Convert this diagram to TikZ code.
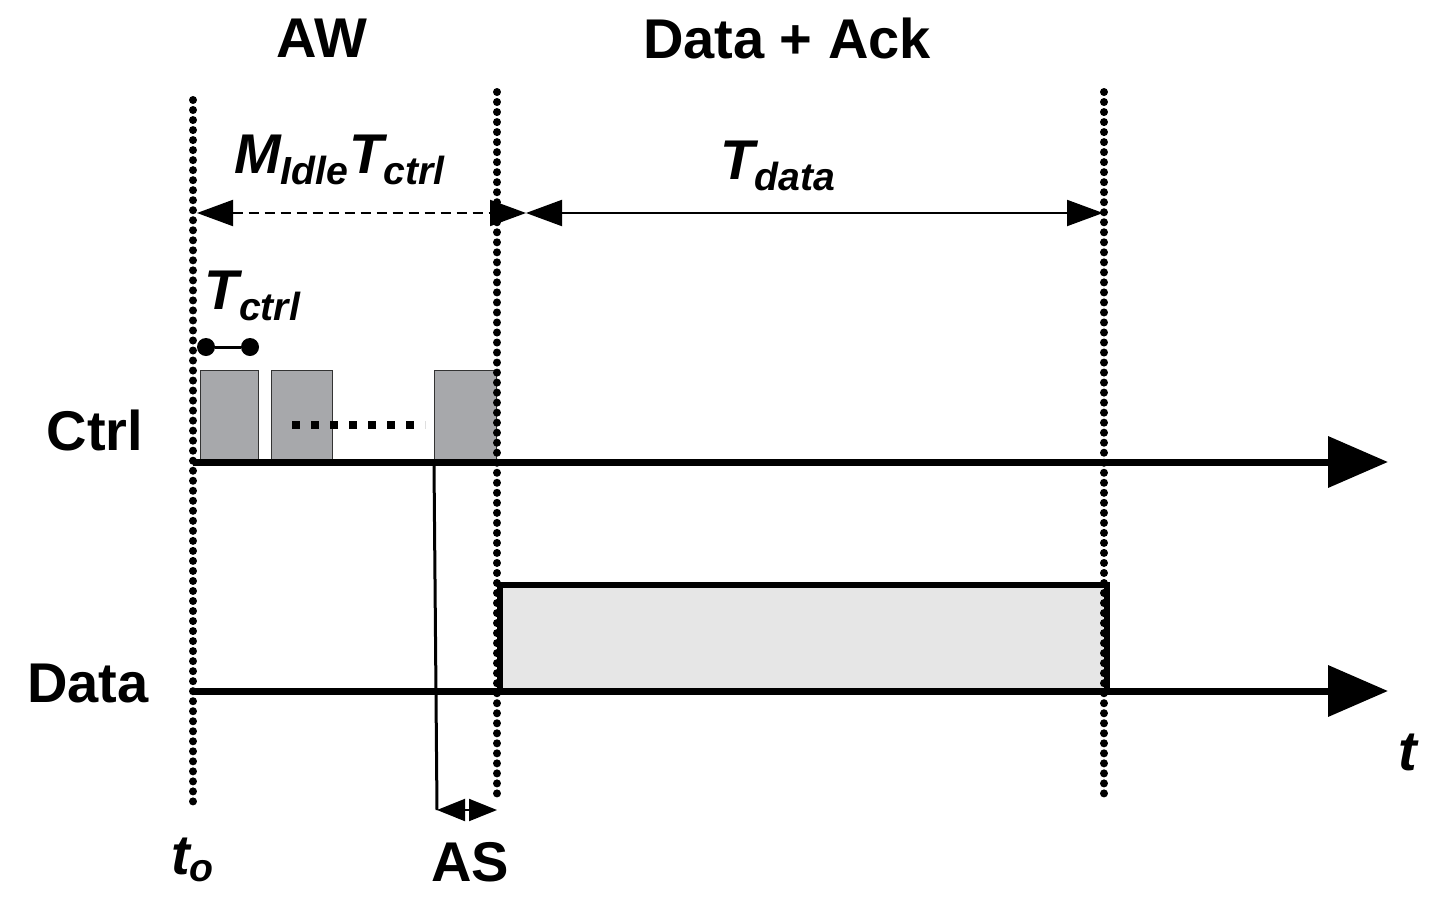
\documentclass[tikz,border=0pt]{standalone}
\usepackage{fontspec}
\setmainfont{Liberation Sans}
\usetikzlibrary{arrows.meta}
\definecolor{boxg}{HTML}{A7A8AB}
\definecolor{datag}{HTML}{E6E6E6}
\begin{document}
\begin{tikzpicture}[x=0.5pt,y=-0.5pt,
  vline/.style={line width=4pt,dash pattern=on 0.01pt off 5pt,line cap=round},
  axis/.style={line width=3.5pt,-{Triangle[length=30pt,width=25pt]}},
  dim/.style={line width=1pt,{Triangle[length=18pt,width=13pt]}-{Triangle[length=18pt,width=13pt]}},
  ctrlbox/.style={draw=black!80,line width=0.6pt,fill=boxg},
  lab/.style={font=\fontsize{28}{30}\selectfont\bfseries},
  ilab/.style={font=\fontsize{28}{30}\selectfont\bfseries\itshape}]
\useasboundingbox (0,0) rectangle (1444,910);
% data box
\node[draw,line width=3pt,fill=datag,minimum width=303.5pt,minimum height=53.5pt,inner sep=0,anchor=north west] (dbox) at (497,582) {};
% ctrl boxes
\node[ctrlbox,anchor=south west,minimum width=29pt,minimum height=45pt,inner sep=0] (b1) at (200,461) {};
\node[ctrlbox,anchor=south west,minimum width=30.5pt,minimum height=45pt,inner sep=0] (b2) at (271,461) {};
\node[ctrlbox,anchor=south west,minimum width=31pt,minimum height=45pt,inner sep=0] (b3) at (434,461) {};
\draw[line width=4pt,dash pattern=on 4pt off 5.5pt] (292,425) -- (425,425);
% axes
\coordinate (c0) at (193,462); \coordinate (c1) at (1388,462);
\coordinate (d0) at (193,691); \coordinate (d1) at (1388,691);
\draw[axis] (c0) -- (c1);
\draw[axis] (d0) -- (d1);
% vertical dotted lines
\coordinate (v1a) at (193,100); \coordinate (v1b) at (193,805);
\coordinate (v2a) at (497,92); \coordinate (v2b) at (497,795);
\coordinate (v3a) at (1104,92); \coordinate (v3b) at (1104,795);
\draw[vline] (v1a) -- (v1b);
\draw[vline] (v2a) -- (v2b);
\draw[vline] (v3a) -- (v3b);
% dimension arrows
\coordinate (m0) at (197,213); \coordinate (m1) at (526,213); \coordinate (m2) at (1103,213);
\draw[dim,dash pattern=on 5pt off 3pt] (m0) -- (m1);
\draw[dim] (m1) -- (m2);
% Tctrl dumbbell
\node[circle,fill,inner sep=0,minimum size=9pt] (p1) at (206,347) {};
\node[circle,fill,inner sep=0,minimum size=9pt] (p2) at (250,347) {};
\draw[line width=1.5pt] (p1) -- (p2);
% AS
\coordinate (a0) at (434,465); \coordinate (a1) at (437,810); \coordinate (a2) at (497,810);
\draw[line width=1.5pt] (a0) -- (a1);
\draw[line width=1pt,{Triangle[length=14pt,width=11pt]}-{Triangle[length=14pt,width=11pt]}] (a1) -- (a2);
% labels
\node[lab] (aw) at (322,38) {AW};
\node[lab] (da) at (787,38) {Data + Ack};
\node[ilab] (mi) at (340,160) {M\textsubscript{Idle}T\textsubscript{ctrl}};
\node[ilab] (td) at (778,166) {T\textsubscript{data}};
\node[ilab] (tc) at (253,296) {T\textsubscript{ctrl}};
\node[lab] (ct) at (95,430) {Ctrl};
\node[lab] (dt) at (88,683) {Data};
\node[ilab] (t) at (1408,752) {t};
\node[ilab] (to) at (193,860) {t\textsubscript{o}};
\node[lab] (as) at (470,862) {AS};
\end{tikzpicture}
\end{document}
